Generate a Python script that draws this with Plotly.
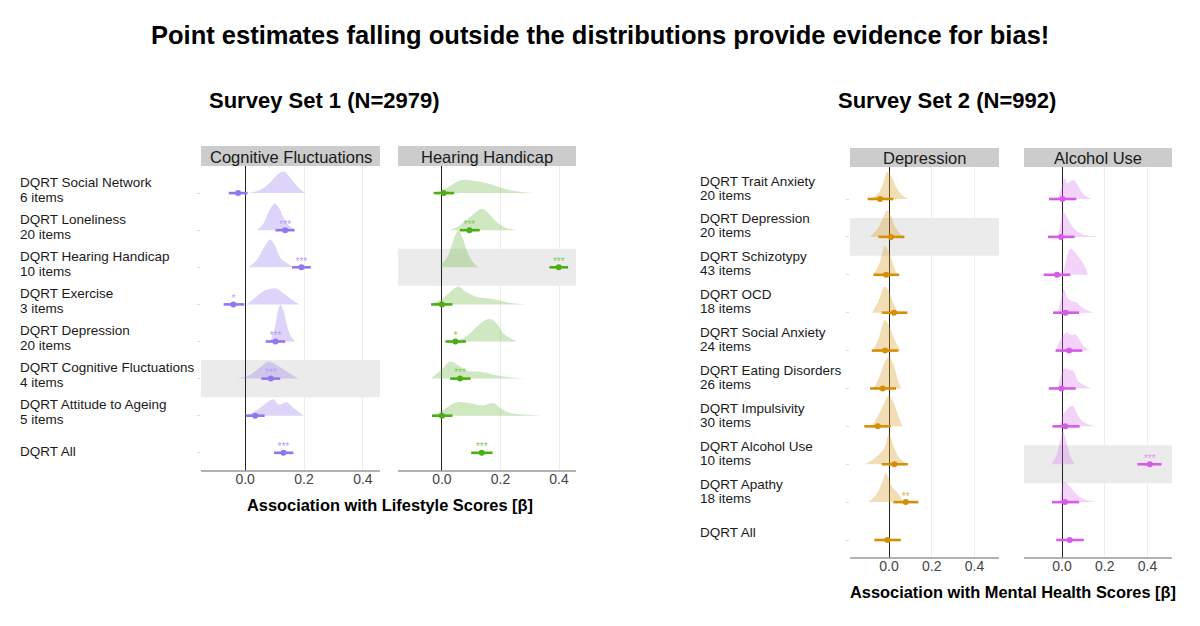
import plotly.graph_objects as go

# ---------------- Survey Set 1 (N=2979) ----------------
set1_names = [
    "DQRT Social Network",
    "DQRT Loneliness",
    "DQRT Hearing Handicap",
    "DQRT Exercise",
    "DQRT Depression",
    "DQRT Cognitive Fluctuations",
    "DQRT Attitude to Ageing",
    "DQRT All",
]
set1_items = ["6 items", "20 items", "10 items", "3 items", "20 items", "4 items", "5 items", ""]

# Cognitive Fluctuations panel
cog_est = [-0.024, 0.136, 0.191, -0.040, 0.103, 0.087, 0.034, 0.130]
cog_lo = [-0.056, 0.103, 0.159, -0.073, 0.070, 0.055, 0.002, 0.098]
cog_hi = [0.008, 0.168, 0.223, -0.003, 0.136, 0.119, 0.066, 0.164]
cog_stars = ["", "***", "***", "*", "***", "***", "", "***"]
cog_dens_x = [
    [0.01, 0.05, 0.08, 0.11, 0.13, 0.15, 0.17, 0.19, 0.205],
    [0.04, 0.06, 0.08, 0.10, 0.115, 0.13, 0.15, 0.17],
    [0.01, 0.04, 0.065, 0.085, 0.10, 0.12, 0.14, 0.165],
    [0.005, 0.03, 0.06, 0.085, 0.105, 0.13, 0.16, 0.185],
    [0.085, 0.10, 0.112, 0.12, 0.13, 0.14, 0.155, 0.17],
    [-0.03, 0.01, 0.05, 0.08, 0.11, 0.14, 0.18],
    [0.005, 0.04, 0.07, 0.095, 0.115, 0.14, 0.165, 0.2],
    None,
]
cog_dens_h = [
    [0, 0.08, 0.25, 0.5, 0.58, 0.45, 0.25, 0.08, 0],
    [0, 0.15, 0.5, 0.72, 0.6, 0.35, 0.12, 0],
    [0, 0.2, 0.55, 0.74, 0.6, 0.25, 0.12, 0],
    [0, 0.15, 0.35, 0.42, 0.43, 0.3, 0.12, 0],
    [0, 0.35, 0.85, 0.99, 0.85, 0.5, 0.15, 0],
    [0, 0.08, 0.3, 0.46, 0.35, 0.2, 0],
    [0, 0.15, 0.33, 0.44, 0.3, 0.36, 0.2, 0],
    None,
]

# Hearing Handicap panel
hear_est = [0.006, 0.094, 0.399, 0.0, 0.046, 0.062, 0.0, 0.136]
hear_lo = [-0.028, 0.061, 0.367, -0.037, 0.012, 0.028, -0.034, 0.100]
hear_hi = [0.042, 0.129, 0.431, 0.036, 0.082, 0.098, 0.036, 0.173]
hear_stars = ["", "***", "***", "", "*", "***", "", "***"]
hear_dens_x = [
    [-0.025, 0.02, 0.05, 0.075, 0.11, 0.15, 0.19, 0.23, 0.31],
    [0.025, 0.05, 0.08, 0.11, 0.137, 0.16, 0.19, 0.22, 0.255],
    [-0.01, 0.02, 0.04, 0.056, 0.07, 0.09, 0.11, 0.125],
    [-0.037, 0.0, 0.03, 0.056, 0.08, 0.12, 0.17, 0.22, 0.29],
    [0.03, 0.07, 0.10, 0.13, 0.165, 0.19, 0.215, 0.257],
    [-0.037, 0.0, 0.03, 0.06, 0.09, 0.13, 0.18, 0.23, 0.29],
    [-0.03, 0.01, 0.04, 0.065, 0.1, 0.14, 0.175, 0.2, 0.23, 0.28, 0.34],
    None,
]
hear_dens_h = [
    [0, 0.15, 0.3, 0.36, 0.33, 0.27, 0.18, 0.08, 0],
    [0, 0.08, 0.25, 0.45, 0.58, 0.45, 0.2, 0.06, 0],
    [0, 0.3, 0.75, 0.99, 0.8, 0.35, 0.1, 0],
    [0, 0.15, 0.35, 0.48, 0.35, 0.2, 0.15, 0.06, 0],
    [0, 0.08, 0.25, 0.48, 0.61, 0.45, 0.18, 0],
    [0, 0.25, 0.46, 0.33, 0.2, 0.19, 0.1, 0.04, 0],
    [0, 0.18, 0.33, 0.37, 0.33, 0.28, 0.34, 0.2, 0.08, 0.03, 0],
    None,
]

# ---------------- Survey Set 2 (N=992) ----------------
set2_names = [
    "DQRT Trait Anxiety",
    "DQRT Depression",
    "DQRT Schizotypy",
    "DQRT OCD",
    "DQRT Social Anxiety",
    "DQRT Eating Disorders",
    "DQRT Impulsivity",
    "DQRT Alcohol Use",
    "DQRT Apathy",
    "DQRT All",
]
set2_items = ["20 items", "20 items", "43 items", "18 items", "24 items",
              "26 items", "30 items", "10 items", "18 items", ""]

# Depression panel
dep_est = [-0.042, 0.009, -0.014, 0.023, -0.019, -0.030, -0.053, 0.025, 0.078, -0.008]
dep_lo = [-0.100, -0.050, -0.073, -0.034, -0.081, -0.089, -0.116, -0.034, 0.020, -0.069]
dep_hi = [0.020, 0.072, 0.047, 0.086, 0.044, 0.033, 0.008, 0.088, 0.137, 0.055]
dep_stars = ["", "", "", "", "", "", "", "", "**", ""]
dep_dens_x = [
    [-0.09, -0.05, -0.025, -0.01, 0.01, 0.03, 0.06, 0.09],
    [-0.09, -0.05, -0.025, -0.01, 0.01, 0.03, 0.065],
    [-0.075, -0.045, -0.02, 0.0, 0.02, 0.036],
    [-0.08, -0.05, -0.02, 0.0, 0.02, 0.044],
    [-0.077, -0.05, -0.02, 0.0, 0.025, 0.052],
    [-0.073, -0.045, -0.02, 0.0, 0.02, 0.04, 0.055],
    [-0.08, -0.05, -0.02, 0.0, 0.02, 0.045, 0.062],
    [-0.11, -0.07, -0.04, -0.02, 0.0, 0.02, 0.045, 0.083],
    [-0.097, -0.06, -0.03, -0.015, 0.0, 0.02, 0.04, 0.067],
    None,
]
dep_dens_h = [
    [0, 0.15, 0.45, 0.71, 0.6, 0.35, 0.1, 0],
    [0, 0.25, 0.55, 0.7, 0.55, 0.25, 0],
    [0, 0.3, 0.76, 0.6, 0.25, 0],
    [0, 0.3, 0.69, 0.55, 0.25, 0],
    [0, 0.3, 0.8, 0.65, 0.3, 0],
    [0, 0.3, 0.7, 0.84, 0.65, 0.25, 0],
    [0, 0.3, 0.65, 0.83, 0.65, 0.25, 0],
    [0, 0.15, 0.3, 0.45, 0.81, 0.5, 0.2, 0],
    [0, 0.2, 0.55, 0.77, 0.6, 0.35, 0.25, 0],
    None,
]

# Alcohol Use panel
alc_est = [0.002, -0.005, -0.023, 0.017, 0.033, -0.002, 0.016, 0.411, 0.014, 0.036]
alc_lo = [-0.061, -0.066, -0.086, -0.042, -0.030, -0.062, -0.045, 0.353, -0.047, -0.027]
alc_hi = [0.067, 0.059, 0.039, 0.080, 0.095, 0.064, 0.083, 0.466, 0.080, 0.102]
alc_stars = ["", "", "", "", "", "", "", "***", "", ""]
alc_dens_x = [
    [-0.02, 0.0, 0.012, 0.025, 0.04, 0.055, 0.07, 0.09, 0.11, 0.138],
    [-0.02, -0.005, 0.005, 0.02, 0.04, 0.06, 0.09, 0.12, 0.169],
    [0.005, 0.02, 0.04, 0.06, 0.08, 0.1, 0.122],
    [-0.02, -0.005, 0.008, 0.025, 0.045, 0.067, 0.09, 0.145],
    [-0.03, -0.01, 0.02, 0.04, 0.065, 0.085, 0.105, 0.13],
    [-0.02, -0.005, 0.012, 0.03, 0.055, 0.075, 0.1, 0.138],
    [-0.01, 0.005, 0.025, 0.048, 0.065, 0.085, 0.11, 0.16],
    [-0.05, -0.025, -0.01, 0.005, 0.02, 0.04, 0.06],
    [-0.01, 0.0, 0.012, 0.03, 0.05, 0.07, 0.1, 0.16],
    None,
]
alc_dens_h = [
    [0, 0.35, 0.55, 0.42, 0.47, 0.5, 0.4, 0.2, 0.08, 0],
    [0, 0.4, 0.65, 0.55, 0.35, 0.2, 0.08, 0.03, 0],
    [0, 0.4, 0.69, 0.6, 0.45, 0.3, 0],
    [0, 0.35, 0.61, 0.4, 0.3, 0.28, 0.15, 0],
    [0, 0.25, 0.48, 0.42, 0.42, 0.25, 0.1, 0],
    [0, 0.35, 0.53, 0.5, 0.45, 0.2, 0.1, 0],
    [0, 0.3, 0.45, 0.55, 0.4, 0.2, 0.08, 0],
    [0, 0.25, 0.6, 0.85, 0.6, 0.2, 0],
    [0, 0.4, 0.53, 0.45, 0.32, 0.2, 0.08, 0],
    None,
]

FONT = "Arial, Liberation Sans, Helvetica, sans-serif"
BAND = "#ebebeb"

# the page puts the plot 8px in from the window corner, so work in window pixels
W, H, OFF = 1192, 618, 8


def px(x):
    return (x - OFF) / W


def py(y):
    return 1 - (y - OFF) / H


fig = go.Figure()


def add_panel(xa, ya, n, est, lo, hi, stars, dens_x, dens_h,
              point_col, fill_col, star_col, highlight):
    rows = [n - 1 - i for i in range(n)]

    # grey band behind the panel's own construct
    fig.add_shape(type="rect", xref=xa + " domain", yref=ya, layer="below",
                  x0=0, x1=1, y0=rows[highlight] - 0.5, y1=rows[highlight] + 0.5,
                  fillcolor=BAND, line_width=0)

    # null distributions (half ridges)
    for i in range(n):
        if dens_x[i] is None:
            continue
        fig.add_trace(go.Scatter(
            x=dens_x[i], y=[rows[i] + h for h in dens_h[i]],
            xaxis=xa, yaxis=ya, mode="lines", fill="toself",
            fillcolor=fill_col, line=dict(width=0, shape="spline", smoothing=1),
            hoverinfo="skip", showlegend=False))

    # point estimates with intervals
    fig.add_trace(go.Scatter(
        x=est, y=rows, xaxis=xa, yaxis=ya, mode="markers",
        marker=dict(color=point_col, size=6),
        error_x=dict(type="data", symmetric=False,
                     array=[h - e for h, e in zip(hi, est)],
                     arrayminus=[e - l for e, l in zip(est, lo)],
                     thickness=2.6, width=0, color=point_col),
        showlegend=False))

    # significance stars
    fig.add_trace(go.Scatter(
        x=est, y=rows, xaxis=xa, yaxis=ya, mode="text", text=stars,
        textposition="top center",
        textfont=dict(size=10, color=star_col, family=FONT),
        hoverinfo="skip", showlegend=False))


add_panel("x", "y", len(set1_names), cog_est, cog_lo, cog_hi, cog_stars,
          cog_dens_x, cog_dens_h, "#9276ef", "rgba(150,125,235,0.32)", "#b3a1f4", 5)
add_panel("x2", "y", len(set1_names), hear_est, hear_lo, hear_hi, hear_stars,
          hear_dens_x, hear_dens_h, "#4cad16", "rgba(110,185,70,0.33)", "#86c760", 2)
add_panel("x3", "y2", len(set2_names), dep_est, dep_lo, dep_hi, dep_stars,
          dep_dens_x, dep_dens_h, "#d48f06", "rgba(215,160,40,0.35)", "#e0ae4a", 1)
add_panel("x4", "y2", len(set2_names), alc_est, alc_lo, alc_hi, alc_stars,
          alc_dens_x, alc_dens_h, "#d65ce8", "rgba(215,110,235,0.30)", "#e293ee", 7)

# row labels, left aligned, two lines placed separately
label_font = dict(size=13.5, color="#1a1a1a", family=FONT)
for names, items, ya, xpos, up, down, single in [
        (set1_names, set1_items, "y", px(18), 11, -4, 1),
        (set2_names, set2_items, "y2", px(698), 18, 4, 8)]:
    n = len(names)
    for i in range(n):
        r = n - 1 - i
        if items[i]:
            fig.add_annotation(x=xpos, xref="paper", y=r, yref=ya, text=names[i],
                               showarrow=False, xanchor="left", yanchor="middle",
                               yshift=up, font=label_font)
            fig.add_annotation(x=xpos, xref="paper", y=r, yref=ya, text=items[i],
                               showarrow=False, xanchor="left", yanchor="middle",
                               yshift=down, font=label_font)
        else:
            fig.add_annotation(x=xpos, xref="paper", y=r, yref=ya, text=names[i],
                               showarrow=False, xanchor="left", yanchor="middle",
                               yshift=single, font=label_font)

# facet strips and bottom axis lines
strips = [
    ("Cognitive Fluctuations", "x", 201, 380, 146, 166, 471),
    ("Hearing Handicap", "x2", 398, 576, 146, 166, 471),
    ("Depression", "x3", 850, 999, 148, 167, 558),
    ("Alcohol Use", "x4", 1024, 1172, 148, 167, 558),
]
for name, xa, x0, x1, y0, y1, ybot in strips:
    fig.add_shape(type="rect", xref="paper", yref="paper",
                  x0=px(x0), x1=px(x1), y0=py(y1), y1=py(y0),
                  fillcolor="#cccccc", line_width=0)
    fig.add_annotation(x=px((x0 + x1) / 2), y=py((y0 + y1) / 2 + 0.5), xref="paper", yref="paper",
                       text=name, showarrow=False, xanchor="center", yanchor="middle",
                       font=dict(size=16.5, color="#1a1a1a", family=FONT))
    fig.add_shape(type="line", xref=xa + " domain", yref="paper",
                  x0=0, x1=1, y0=py(ybot), y1=py(ybot),
                  line=dict(color="#999999", width=1.5))

# titles
titles = [
    ("<b>Point estimates falling outside the distributions provide evidence for bias!</b>", 600, 35, 25.5),
    ("<b>Survey Set 1 (N=2979)</b>", 324, 100, 22),
    ("<b>Survey Set 2 (N=992)</b>", 947, 100, 22),
    ("<b>Association with Lifestyle Scores [β]</b>", 390, 505, 16.4),
    ("<b>Association with Mental Health Scores [β]</b>", 1013, 592, 16.4),
]
for text, tx, ty, size in titles:
    fig.add_annotation(x=px(tx), y=py(ty), xref="paper", yref="paper", showarrow=False,
                       xanchor="center", yanchor="middle", text=text,
                       font=dict(size=size, color="black", family=FONT))

# tick labels sit a little closer to the panel than plotly's default, so the
# x axes float slightly above the panel bottom (the bottom line is a shape)
xcommon = dict(tickvals=[0, 0.2, 0.4], ticktext=["0.0", "0.2", "0.4"],
               showgrid=True, gridcolor="#ededed", gridwidth=1,
               zeroline=True, zerolinecolor="#222222", zerolinewidth=1.2,
               showline=False, ticks="", anchor="free",
               tickfont=dict(size=14, color="#444444", family=FONT),
               fixedrange=True)
ycommon = dict(showticklabels=False, showgrid=False, zeroline=False,
               ticks="outside", ticklen=3, tickcolor="#dddddd", dtick=1,
               fixedrange=True)

fig.update_layout(
    width=W, height=H,
    margin=dict(l=0, r=0, t=0, b=0),
    paper_bgcolor="white", plot_bgcolor="white",
    showlegend=False,
    xaxis=dict(domain=[px(201), px(380)], range=[-0.15, 0.458], position=py(469), **xcommon),
    xaxis2=dict(domain=[px(398), px(576)], range=[-0.15, 0.458], position=py(469), **xcommon),
    xaxis3=dict(domain=[px(850), px(999)], range=[-0.183, 0.515], position=py(556), **xcommon),
    xaxis4=dict(domain=[px(1024), px(1172)], range=[-0.178, 0.515], position=py(556), **xcommon),
    yaxis=dict(domain=[py(471), py(166)], range=[-0.49, 7.73], anchor="x", **ycommon),
    yaxis2=dict(domain=[py(558), py(167)], range=[-0.475, 9.845], anchor="x3", **ycommon),
)

fig.write_html("out.html")
